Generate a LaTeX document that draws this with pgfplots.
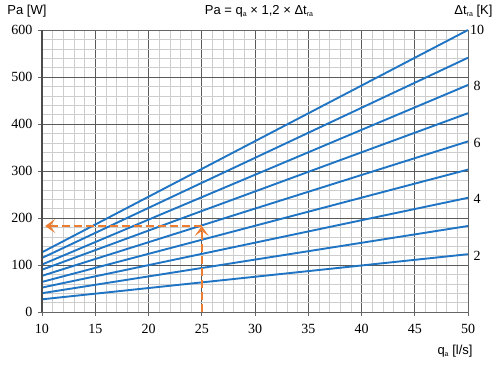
\documentclass[border=0pt]{standalone}
\usepackage{pgfplots}
\pgfplotsset{compat=1.18}
\usetikzlibrary{arrows.meta}
\usepackage{fontspec}
\setmainfont{Liberation Sans}
\newfontfamily\serif{Liberation Serif}
\definecolor{lineblue}{RGB}{31,117,196}
\definecolor{arrorange}{RGB}{237,125,49}
\definecolor{majgrid}{RGB}{90,90,90}
\definecolor{mingrid}{RGB}{205,205,205}
\newcommand{\sub}[1]{\raisebox{-0.35ex}{\fontsize{7}{7}\selectfont #1}}
\begin{document}
\begin{tikzpicture}
\path[use as bounding box] (0,0) rectangle (500pt,365pt);
\begin{axis}[
  at={(42pt,53pt)}, anchor=south west,
  width=426pt, height=282pt, scale only axis,
  xmin=10, xmax=50, ymin=0, ymax=600,
  xtick={10,15,...,50}, ytick={0,100,...,600},
  minor x tick num=4, minor y tick num=4,
  grid=both,
  major grid style={color=majgrid, line width=0.8pt},
  minor grid style={color=mingrid, line width=0.5pt},
  axis line style={color=gray!80!black, line width=0.8pt},
  tick align=outside,
  major tick length=4pt, minor tick length=0pt,
  tick style={color=gray!80!black, line width=0.8pt},
  xtick pos=bottom, ytick pos=left,
  /pgf/number format/assume math mode=true,
  tick label style={font=\serif\fontsize{14}{14}\selectfont},
  xticklabel style={yshift=-5pt},
  yticklabel style={xshift=-2pt},
  clip=false,
]
\foreach \a/\b in {27/123,40/183,52/243,64/303,77/363,90/423,101/483,115/541,127/600}{
  \edef\temp{\noexpand\addplot[lineblue, line width=1.9pt] coordinates {(10,\a) (50,\b)};}
  \temp
}
\addplot[arrorange, line width=1.9pt, dash pattern=on 8pt off 4pt,
  -{Stealth[length=10pt,width=14pt,inset=5pt]}] coordinates {(25,0) (25,183)};
\addplot[arrorange, line width=1.9pt, dash pattern=on 8pt off 4pt,
  -{Stealth[length=10pt,width=14pt,inset=5pt]}] coordinates {(25,183) (10.3,183)};
\draw[line width=1.6pt, color=gray!60!black] (axis cs:10,0) -- (axis cs:10,600);
\end{axis}
\begin{axis}[
  at={(42pt,53pt)}, anchor=south west,
  width=426pt, height=282pt, scale only axis,
  xmin=10, xmax=50, ymin=0, ymax=600,
  axis y line*=right, axis x line=none,
  ytick={120,240,360,480,600}, yticklabels={2,4,6,8,10},
  major tick length=0pt,
  axis line style={color=gray!80!black, line width=0.8pt},
  /pgf/number format/assume math mode=true,
  yticklabel style={font=\serif\fontsize{14}{14}\selectfont, anchor=center, xshift=9pt},
]
\end{axis}
\node[font=\fontsize{13}{13}\selectfont] at (27pt,354pt) {Pa [W]};
\node[font=\fontsize{13}{13}\selectfont] at (259pt,354pt) {Pa = q\sub{a} × 1,2 × Δt\sub{ra}};
\node[font=\fontsize{13}{13}\selectfont, anchor=east] at (496pt,354pt) {Δt\sub{ra} [K]};
\node[font=\fontsize{13}{13}\selectfont, anchor=east] at (476pt,14pt) {q\sub{a} [l/s]};
\end{tikzpicture}
\end{document}
